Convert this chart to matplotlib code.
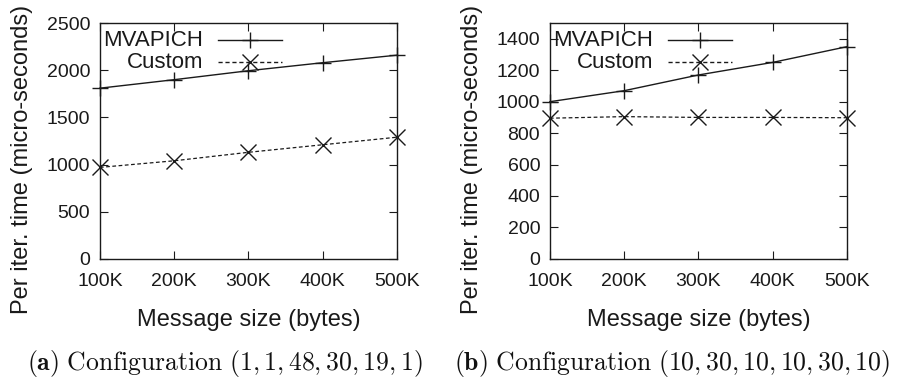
import matplotlib
matplotlib.use("Agg")
import matplotlib.pyplot as plt
from matplotlib.lines import Line2D

plt.rcParams['font.family'] = ['Liberation Sans', 'DejaVu Sans']
plt.rcParams['mathtext.fontset'] = 'cm'

sizes = [100, 200, 300, 400, 500]
size_labels = ["100K", "200K", "300K", "400K", "500K"]

mvapich_a = [1810, 1900, 1995, 2080, 2160]
custom_a = [970, 1040, 1130, 1210, 1290]
mvapich_b = [1000, 1070, 1170, 1250, 1350]
custom_b = [895, 905, 900, 900, 898]

yticks_a = [0, 500, 1000, 1500, 2000, 2500]
yticks_b = [0, 200, 400, 600, 800, 1000, 1200, 1400]

captions = [r"$\mathbf{(a)}\ \mathrm{Configuration}\ (1,1,48,30,19,1)$",
            r"$\mathbf{(b)}\ \mathrm{Configuration}\ (10,30,10,10,30,10)$"]

FS = 14
LFS = 17
col = '#1a1a1a'

fig = plt.figure(figsize=(9, 3.79), dpi=100)
axes = [fig.add_axes([0.111, 0.317, 0.330, 0.622]),
        fig.add_axes([0.611, 0.317, 0.330, 0.622])]

panels = [(mvapich_a, custom_a, yticks_a, 2500),
          (mvapich_b, custom_b, yticks_b, 1500)]

for i, (ax, (mv, cu, yt, ymax)) in enumerate(zip(axes, panels)):
    ax.plot(sizes, mv, color=col, lw=1.0, marker='+', ms=12, mew=1.0, clip_on=False)
    ax.plot(sizes, cu, color=col, lw=0.9, ls=(0, (3, 2)), marker='x', ms=11, mew=1.0,
            clip_on=False)
    ax.set_xlim(100, 500)
    ax.set_ylim(0, ymax)
    ax.set_xticks(sizes)
    ax.set_xticklabels(size_labels)
    ax.set_yticks(yt)
    ax.tick_params(direction='in', top=True, right=True, length=6, width=0.8,
                   labelsize=FS, colors=col)
    ax.tick_params(axis='x', pad=10)
    ax.tick_params(axis='y', pad=7)
    for s in ax.spines.values():
        s.set_linewidth(1.0)
        s.set_color(col)
    ax.set_xlabel("Message size (bytes)", fontsize=LFS, color=col)
    ax.set_ylabel("Per iter. time (micro-seconds)", fontsize=LFS, color=col)
    ax.xaxis.set_label_coords(0.5, -0.212)
    ax.yaxis.set_label_coords(-0.2256, 0.42)

    # gnuplot-style key (text right-aligned, sample to the right)
    for (label, y, mk, ls, ms) in [("MVAPICH", 0.928, '+', '-', 12),
                                   ("Custom", 0.835, 'x', (0, (3, 2)), 11)]:
        ax.text(0.347, y, label, transform=ax.transAxes, ha='right', va='center',
                fontsize=16, color=col)
        ax.add_line(Line2D([0.397, 0.613], [y, y], transform=ax.transAxes,
                           color=col, lw=1.0, ls=ls))
        ax.add_line(Line2D([0.505], [y], transform=ax.transAxes, color=col,
                           marker=mk, ms=ms, mew=1.0, ls='none'))

    cx = 0.25 if i == 0 else 0.7467
    fig.text(cx, 0.042, captions[i], ha='center', va='center', fontsize=18.5,
             color='#111111')

fig.savefig("out.png", dpi=100)
